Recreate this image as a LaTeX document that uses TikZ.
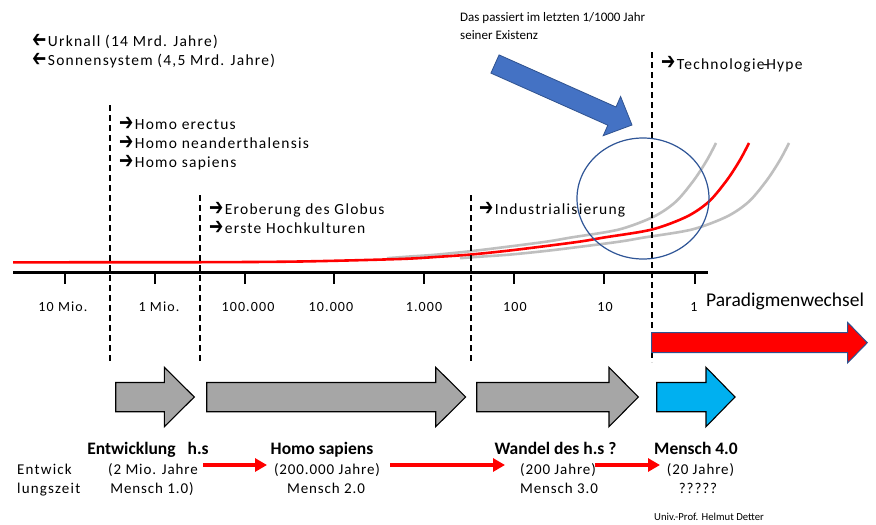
\documentclass[tikz,border=0pt]{standalone}
\usepackage{fontspec}
\usepackage{graphicx}
\setmainfont{Carlito}
\newfontfamily\dejavu{DejaVu Sans}
\newfontfamily\lsA{Carlito}[LetterSpace=8]
\newfontfamily\lsB{Carlito}[LetterSpace=6]
\usetikzlibrary{arrows.meta}
\definecolor{bluefill}{HTML}{4472C4}
\definecolor{blueedge}{HTML}{2F528F}
\definecolor{circblue}{HTML}{2F5597}
\definecolor{blkgrey}{HTML}{A6A6A6}
\definecolor{cyanfill}{HTML}{00B0F0}
\definecolor{curvegrey}{HTML}{BFBFBF}
\newcommand\myR{\smash{{\dejavu\fontsize{17}{17}\selectfont\raisebox{-0.8pt}{\scalebox{1}[1.4]{➔}}}}\kern1.5pt}
\newcommand\myL{\smash{{\dejavu\fontsize{17}{17}\selectfont\raisebox{-0.8pt}{\scalebox{-1}[1.4]{➔}}}}\kern1.5pt}
\newcommand\blockarrow[4]{\filldraw[blk, fill=#1] (#2,382.5) -- (#3,382.5) -- (#3,367.3) -- (#4,397) -- (#3,426.7) -- (#3,411.7) -- (#2,411.7) -- cycle;}
\begin{document}
\begin{tikzpicture}[x=1pt,y=-1pt,
  lbl/.style={anchor=base west, inner sep=0pt, font=\lsA\fontsize{15.5}{18}\selectfont},
  axl/.style={anchor=base, inner sep=0pt, font=\lsA\fontsize{14}{16}\selectfont},
  btitle/.style={anchor=base, inner sep=0pt, font=\bfseries\fontsize{17.5}{20}\selectfont},
  bsub/.style={anchor=base, inner sep=0pt, font=\lsB\fontsize{15}{18}\selectfont},
  dline/.style={dash pattern=on 6pt off 4pt, line width=1.3pt},
  blk/.style={draw=black, line width=1.1pt, line join=miter},
  rarr/.style={red, line width=4pt, -{Triangle[length=12pt,width=13pt]}},
  redc/.style={red, line width=2.6pt},
  greyc/.style={curvegrey, line width=2.6pt}]
\useasboundingbox (0,0) rectangle (876,525);
\fill[white] (0,0) rectangle (876,525);

% curves
\draw[greyc, xshift=-33pt] plot[smooth] coordinates {(420,258.2) (440,256.7) (471,254.5) (514,250) (577,242) (604,237.5) (652,229.5) (687,216.5) (709,201.5) (727,180) (740,160) (749,143)};
\draw[greyc, xshift=40pt] plot[smooth] coordinates {(420,258.2) (440,256.7) (471,254.5) (514,250) (577,242) (604,237.5) (652,229.5) (687,216.5) (709,201.5) (727,180) (740,160) (749,143)};
\draw[redc] plot[smooth] coordinates {(13,262.3) (200,262.2) (300,261.5) (400,259) (440,256.7) (471,254.5) (514,250) (577,242) (604,237.5) (652,229.5) (687,216.5) (709,201.5) (727,180) (740,160) (749,143)};

% axis
\draw[line width=2.5pt] (13,272.5) -- (708,272.5);
\foreach \tx in {65,155,245,334,424,514,604,695}
  \draw[line width=2.5pt] (\tx,272.5) -- (\tx,284);

% dashed lines
\draw[dline] (110,105) -- (110,362);
\draw[dline] (200,195) -- (200,362);
\draw[dline] (471,195) -- (471,362);
\draw[dline] (652,52) -- (652,362);

% circle
\draw[circblue, line width=1.2pt] (643,198.5) ellipse [x radius=66pt, y radius=60.5pt];

% blue arrow
\filldraw[fill=bluefill, draw=blueedge, line width=0.8pt] (490.9,73.1) -- (499.1,54.9) -- (616.0,107.0) -- (620.6,96.5) -- (632,125) -- (603.2,135.7) -- (607.8,125.2) -- cycle;

% red big arrow
\filldraw[fill=red, draw=blueedge, line width=1pt] (651.7,332.7) -- (847.7,332.7) -- (847.7,322.5) -- (867.3,342.7) -- (847.7,362.8) -- (847.7,352.5) -- (651.7,352.5) -- cycle;

% block arrows
\blockarrow{blkgrey}{115.7}{164.3}{194.3}
\blockarrow{blkgrey}{206.7}{435.7}{465.7}
\blockarrow{blkgrey}{476.7}{609}{638.3}
\blockarrow{cyanfill}{656.7}{706}{735}

% top texts
\node[lbl] (urk) at (32,46.7) {\myL Urknall (14 Mrd. Jahre)};
\node[lbl] (son) at (32,65.7) {\myL Sonnensystem (4,5 Mrd. Jahre)};
\node[anchor=base west, inner sep=0pt, font=\fontsize{13}{16}\selectfont] (das1) at (460,21.7) {Das passiert im letzten 1/1000 Jahr};
\node[anchor=base west, inner sep=0pt, font=\fontsize{13}{16}\selectfont] (das2) at (460,39.3) {seiner Existenz};
\node[lbl] (tech) at (661,69) {\myR Technologie\kern-1pt-\kern-2pt Hype};
\node[lbl] (he) at (119,129.3) {\myR Homo erectus};
\node[lbl] (hn) at (119,148.3) {\myR Homo neanderthalensis};
\node[lbl] (hs) at (119,167.4) {\myR Homo sapiens};
\node[lbl] (ero) at (209,214.3) {\myR Eroberung des Globus};
\node[lbl] (hoch) at (209,233.3) {\myR erste Hochkulturen};
\node[lbl] (ind) at (479,214.3) {\myR Industrialisierung};

% axis labels
\node[axl] (l1) at (63,311.5) {10 Mio.};
\node[axl] (l2) at (159,311.5) {1 Mio.};
\node[axl] (l3) at (248,311.5) {100.000};
\node[axl] (l4) at (331,311.5) {10.000};
\node[axl] (l5) at (424,311.5) {1.000};
\node[axl] (l6) at (515,311.5) {100};
\node[axl] (l7) at (605,311.5) {10};
\node[axl] (l8) at (694,311.5) {1};
\node[anchor=base west, inner sep=0pt, font=\fontsize{19.5}{22}\selectfont] (para) at (706,306.7) {Paradigmenwechsel};

% bottom texts
\node[btitle] (t1) at (148,454) {Entwicklung\hspace{12pt}h.s};
\node[bsub] (t1b) at (153,474.5) {(2 Mio. Jahre};
\node[bsub] (t1c) at (152,493.5) {Mensch 1.0)};
\node[btitle] (t2) at (322,454) {Homo sapiens};
\node[bsub] (t2b) at (327,474.5) {(200.000 Jahre)};
\node[bsub] (t2c) at (326,493.5) {Mensch 2.0};
\node[btitle] (t3) at (555.5,454) {Wandel des h.s ?};
\node[bsub] (t3b) at (558,474.5) {(200 Jahre)};
\node[bsub] (t3c) at (559,493.5) {Mensch 3.0};
\node[btitle] (t4) at (696,454) {Mensch 4.0};
\node[bsub] (t4b) at (700.5,474.5) {(20 Jahre)};
\node[bsub] (t4c) at (698,493.5) {?????};
\node[anchor=base west, inner sep=0pt, font=\lsA\fontsize{15}{18}\selectfont] (ez1) at (17,474.5) {Entwick};
\node[anchor=base west, inner sep=0pt, font=\lsA\fontsize{15}{18}\selectfont] (ez2) at (17,493.5) {lungszeit};
\node[anchor=base, inner sep=0pt, font=\fontsize{10.7}{12}\selectfont] (prof) at (709,520) {Univ.-Prof. Helmut Detter};

% small red arrows
\coordinate (ra1s) at (203,465); \coordinate (ra1e) at (267,465);
\coordinate (ra2s) at (390,465); \coordinate (ra2e) at (505,465);
\coordinate (ra3s) at (595,465); \coordinate (ra3e) at (660,465);
\draw[rarr] (ra1s) -- (ra1e);
\draw[rarr] (ra2s) -- (ra2e);
\draw[rarr] (ra3s) -- (ra3e);
\end{tikzpicture}
\end{document}
